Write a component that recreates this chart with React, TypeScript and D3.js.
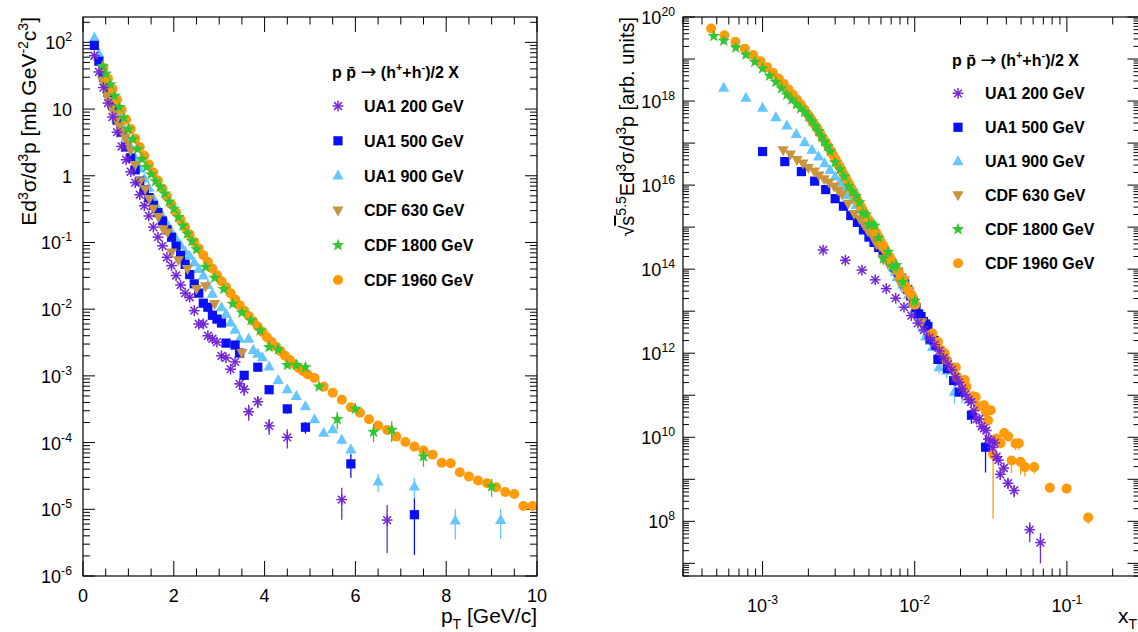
import React from 'react';
import * as d3 from 'd3';

// ---------------- data ----------------
// pT in GeV/c, invariant cross section E d3sigma/dp3 in mb GeV^-2 c^3
const ua1_200_pt = [0.25, 0.35, 0.45, 0.55, 0.65, 0.75, 0.85, 0.95, 1.05, 1.15, 1.25, 1.35, 1.45, 1.55, 1.65, 1.75, 1.85, 1.95, 2.05, 2.15, 2.25, 2.35, 2.45, 2.55, 2.65, 2.75, 2.85, 2.95, 3.05, 3.15, 3.25, 3.35, 3.45, 3.55, 3.65, 3.85, 4.1, 4.5, 5.7, 6.7];
const ua1_200_val = [63, 36, 21, 12.3, 7.6, 4.5, 2.75, 1.74, 1.15, 0.79, 0.52, 0.355, 0.25, 0.17, 0.12, 0.089, 0.06, 0.045, 0.032, 0.023, 0.0174, 0.0151, 0.0095, 0.006, 0.006, 0.004, 0.0036, 0.0032, 0.002, 0.00186, 0.00126, 0.00162, 7.6e-4, 6.3e-4, 2.9e-4, 4.1e-4, 1.78e-4, 1.2e-4, 1.4e-5, 6.9e-6];
const ua1_200_errPt = [3.55, 3.65, 3.85, 4.1, 4.5, 5.7, 6.7];
const ua1_200_errRel = [0.2, 0.27, 0.2, 0.27, 0.32, 0.5, 0.68];

const ua1_500_pt = [0.25, 0.35, 0.45, 0.55, 0.65, 0.75, 0.85, 0.95, 1.05, 1.15, 1.25, 1.35, 1.45, 1.55, 1.65, 1.75, 1.85, 1.95, 2.05, 2.15, 2.25, 2.35, 2.45, 2.55, 2.65, 2.75, 2.85, 2.95, 3.05, 3.15, 3.35, 3.45, 3.55, 3.85, 4.1, 4.5, 4.9, 5.9, 7.3];
const ua1_500_val = [90, 52, 30, 17.8, 11.2, 6.8, 4.5, 2.7, 1.86, 1.23, 0.83, 0.62, 0.47, 0.36, 0.28, 0.21, 0.155, 0.12, 0.088, 0.064, 0.047, 0.033, 0.024, 0.0174, 0.0123, 0.0107, 0.0081, 0.0071, 0.0062, 0.0031, 0.0029, 0.0022, 0.00102, 0.00135, 6.2e-4, 3.2e-4, 1.7e-4, 4.8e-5, 8.3e-6];
const ua1_500_errPt = [4.1, 4.5, 4.9, 5.9, 7.3];
const ua1_500_errRel = [0.1, 0.15, 0.2, 0.38, 0.75];

const ua1_900_pt = [0.25, 0.35, 0.45, 0.55, 0.65, 0.75, 0.85, 0.95, 1.05, 1.15, 1.25, 1.35, 1.45, 1.55, 1.65, 1.75, 1.85, 1.95, 2.05, 2.15, 2.25, 2.35, 2.45, 2.55, 2.65, 2.75, 2.85, 3.05, 3.15, 3.25, 3.35, 3.45, 3.65, 3.75, 3.85, 3.95, 4.1, 4.3, 4.5, 4.7, 4.9, 5.1, 5.3, 5.5, 5.7, 5.9, 6.5, 7.3, 8.2, 9.2];
const ua1_900_val = [117, 68, 39, 23.4, 14.8, 9.3, 5.9, 3.9, 2.7, 1.86, 1.29, 0.91, 0.66, 0.46, 0.33, 0.25, 0.19, 0.145, 0.115, 0.092, 0.074, 0.063, 0.05, 0.04, 0.032, 0.023, 0.017, 0.0107, 0.0085, 0.0063, 0.0049, 0.0036, 0.0036, 0.00245, 0.00214, 0.0019, 0.00138, 8.7e-4, 6.3e-4, 5.0e-4, 3.5e-4, 2.24e-4, 1.41e-4, 1.58e-4, 1.1e-4, 7.9e-5, 2.6e-5, 2.2e-5, 6.8e-6, 6.9e-6];
const ua1_900_errPt = [5.3, 5.5, 5.7, 5.9, 6.5, 7.3, 8.2, 9.2];
const ua1_900_errRel = [0.1, 0.1, 0.15, 0.2, 0.3, 0.35, 0.48, 0.48];

const cdf_630_pt = [0.43, 0.48, 0.53, 0.58, 0.63, 0.69, 0.74, 0.8, 0.86, 0.93, 0.99, 1.05, 1.15, 1.26, 1.37, 1.46, 1.55, 1.66, 1.77, 1.86, 1.95, 2.1, 2.3, 2.5, 2.7, 2.9, 3.5];
const cdf_630_val = [27, 21.4, 15.8, 13.2, 10.2, 8.5, 6.8, 5.5, 4.6, 3.7, 3.0, 2.4, 1.45, 0.83, 0.63, 0.45, 0.32, 0.24, 0.158, 0.141, 0.071, 0.054, 0.04, 0.02, 0.022, 0.012, 0.0022];
const cdf_630_errPt: number[] = [];
const cdf_630_errRel: number[] = [];

const cdf_1800_pt = [0.43, 0.5, 0.6, 0.7, 0.8, 0.9, 1.0, 1.1, 1.2, 1.3, 1.4, 1.5, 1.6, 1.7, 1.8, 1.9, 2.0, 2.1, 2.2, 2.3, 2.4, 2.5, 2.7, 2.9, 3.1, 3.3, 3.5, 3.7, 3.9, 4.1, 4.3, 4.5, 4.7, 4.9, 5.2, 5.6, 6.0, 6.4, 6.8, 7.5, 9.0];
const cdf_1800_val = [43.7, 33.9, 23.4, 15.8, 10.7, 7.41, 5.01, 3.55, 2.51, 1.78, 1.35, 1.05, 0.83, 0.68, 0.54, 0.41, 0.32, 0.24, 0.178, 0.135, 0.105, 0.079, 0.043, 0.0295, 0.02, 0.012, 0.0089, 0.0068, 0.0048, 0.0027, 0.0025, 0.00145, 0.00145, 0.00135, 6.9e-4, 2.24e-4, 3.2e-4, 1.45e-4, 1.55e-4, 6.2e-5, 2.2e-5];
const cdf_1800_errPt = [5.6, 6.0, 6.4, 6.8, 7.5, 9.0];
const cdf_1800_errRel = [0.3, 0.15, 0.3, 0.35, 0.3, 0.3];

const cdf_1960_pt = [0.45, 0.55, 0.65, 0.75, 0.85, 0.95, 1.05, 1.15, 1.25, 1.35, 1.45, 1.55, 1.65, 1.75, 1.85, 1.95, 2.05, 2.15, 2.25, 2.35, 2.45, 2.55, 2.65, 2.75, 2.85, 2.95, 3.05, 3.15, 3.25, 3.35, 3.45, 3.55, 3.65, 3.75, 3.85, 3.95, 4.05, 4.15, 4.25, 4.35, 4.45, 4.55, 4.65, 4.75, 4.85, 4.95, 5.1, 5.3, 5.5, 5.7, 5.9, 6.1, 6.3, 6.5, 6.7, 6.9, 7.1, 7.3, 7.5, 7.7, 7.9, 8.1, 8.3, 8.5, 8.7, 8.9, 9.1, 9.3, 9.5, 9.7, 9.9];
const cdf_1960_val = [41.7, 28.8, 20.0, 13.8, 9.77, 6.92, 5.01, 3.63, 2.69, 2.0, 1.48, 1.12, 0.85, 0.646, 0.49, 0.372, 0.282, 0.219, 0.17, 0.132, 0.102, 0.081, 0.0646, 0.0513, 0.0407, 0.0324, 0.0263, 0.0214, 0.0174, 0.0141, 0.0115, 0.0095, 0.0079, 0.0066, 0.0055, 0.00457, 0.0038, 0.00324, 0.00275, 0.00234, 0.002, 0.00174, 0.00151, 0.00132, 0.00117, 0.00105, 9.3e-4, 6.9e-4, 5.6e-4, 4.4e-4, 3.4e-4, 2.8e-4, 2.24e-4, 1.8e-4, 1.55e-4, 1.23e-4, 1.02e-4, 8.7e-5, 7.6e-5, 6.6e-5, 5.0e-5, 4.9e-5, 3.6e-5, 3.1e-5, 2.7e-5, 2.45e-5, 2.14e-5, 1.82e-5, 1.7e-5, 1.12e-5, 1.12e-5];
const cdf_1960_errPt: number[] = [];
const cdf_1960_errRel: number[] = [];

// CDF 1960 GeV points beyond pT = 10 GeV/c, only on the x_T panel (x_T, sqrt(s)^5.5 E d3sigma/dp3)
const cdf_1960_hi_xt = [0.01306, 0.01422, 0.015, 0.01574, 0.01633, 0.0177, 0.01862, 0.01897, 0.0203, 0.02133, 0.02188, 0.02399, 0.02518, 0.02649, 0.02858, 0.02931, 0.03162, 0.03034, 0.03273, 0.03443, 0.03664, 0.03873, 0.04111, 0.04325, 0.04592, 0.04831, 0.04955, 0.05297, 0.06095, 0.07727, 0.09954, 0.138];
const cdf_1960_hi_val = [2.95e12, 1.86e12, 1.17e12, 9.8e11, 6.8e11, 4.6e11, 4.6e11, 2.75e11, 2.19e11, 2.29e11, 1.58e11, 9.5e10, 9.1e10, 5.5e10, 5.75e10, 4.0e10, 4.4e10, 2.5e10, 3.9e9, 9.3e9, 7.2e9, 1.26e10, 1.05e10, 2.8e9, 7.1e9, 7.2e9, 2.6e9, 1.95e9, 1.95e9, 6.3e8, 6.0e8, 1.23e8];
const cdf_1960_hi_errDown = [0, 0, 0, 0, 0, 0, 0, 0, 0, 0, 0, 0, 0, 0, 0, 0, 0, 0, 0.97, 0.2, 0.15, 0, 0, 0.5, 0.3, 0.3, 0.5, 0.4, 0.3, 0.2, 0.2, 0.3];

const ptTicks = [0, 2, 4, 6, 8, 10];
const leftYLabelExps = [-6, -5, -4, -3, -2, -1, 0, 1, 2];
const rightYLabelExps = [8, 10, 12, 14, 16, 18, 20];
const rightXLabelExps = [-3, -2, -1];

type MarkerType = 'asterisk' | 'square' | 'triUp' | 'triDown' | 'star' | 'circle';
interface Series {
  name: string; sqrtS: number; color: string; marker: MarkerType;
  pt: number[]; val: number[]; errPt: number[]; errRel: number[];
}

const series: Series[] = [
  { name: 'UA1 200 GeV', sqrtS: 200, color: '#7326d6', marker: 'asterisk', pt: ua1_200_pt, val: ua1_200_val, errPt: ua1_200_errPt, errRel: ua1_200_errRel },
  { name: 'UA1 500 GeV', sqrtS: 500, color: '#0a10f5', marker: 'square', pt: ua1_500_pt, val: ua1_500_val, errPt: ua1_500_errPt, errRel: ua1_500_errRel },
  { name: 'UA1 900 GeV', sqrtS: 900, color: '#66c6ff', marker: 'triUp', pt: ua1_900_pt, val: ua1_900_val, errPt: ua1_900_errPt, errRel: ua1_900_errRel },
  { name: 'CDF 630 GeV', sqrtS: 630, color: '#c8953f', marker: 'triDown', pt: cdf_630_pt, val: cdf_630_val, errPt: cdf_630_errPt, errRel: cdf_630_errRel },
  { name: 'CDF 1800 GeV', sqrtS: 1800, color: '#33c633', marker: 'star', pt: cdf_1800_pt, val: cdf_1800_val, errPt: cdf_1800_errPt, errRel: cdf_1800_errRel },
  { name: 'CDF 1960 GeV', sqrtS: 1960, color: '#ff9a0a', marker: 'circle', pt: cdf_1960_pt, val: cdf_1960_val, errPt: cdf_1960_errPt, errRel: cdf_1960_errRel },
];
// drawing order (bottom -> top)
const drawOrder = [2, 1, 3, 5, 4, 0];

// ---------------- layout ----------------
const FONT = "'Liberation Sans', Arial, Helvetica, sans-serif";
const TOP = 17, BOT = 576;
const LX0 = 83, LX1 = 537;
const RX0 = 683, RX1 = 1139.5;

const xL = d3.scaleLinear().domain([0, 10]).range([LX0, LX1]);
const yL = d3.scaleLog().domain([1e-6, 240]).range([BOT, TOP]);
const xR = d3.scaleLog().domain([3e-4, 0.3]).range([RX0, RX1]);
const yR = d3.scaleLog().domain([5e6, 1e20]).range([BOT, TOP]);

function Marker({ type, x, y, color }: { type: MarkerType; x: number; y: number; color: string }) {
  switch (type) {
    case 'asterisk': {
      const r = 5.4, d = r * 0.72;
      return (
        <g stroke={color} strokeWidth={1.5}>
          <line x1={x - r} y1={y} x2={x + r} y2={y} />
          <line x1={x} y1={y - r} x2={x} y2={y + r} />
          <line x1={x - d} y1={y - d} x2={x + d} y2={y + d} />
          <line x1={x - d} y1={y + d} x2={x + d} y2={y - d} />
        </g>
      );
    }
    case 'square':
      return <rect x={x - 4.6} y={y - 4.6} width={9.2} height={9.2} fill={color} />;
    case 'triUp':
      return <path d={`M${x},${y - 6}L${x + 5.6},${y + 4}L${x - 5.6},${y + 4}Z`} fill={color} />;
    case 'triDown':
      return <path d={`M${x},${y + 6}L${x + 5.6},${y - 4}L${x - 5.6},${y - 4}Z`} fill={color} />;
    case 'star': {
      const R = 6.6, ri = 2.7;
      const pts: string[] = [];
      for (let i = 0; i < 10; i++) {
        const a = -Math.PI / 2 + (i * Math.PI) / 5;
        const rr = i % 2 === 0 ? R : ri;
        pts.push(`${x + rr * Math.cos(a)},${y + rr * Math.sin(a)}`);
      }
      return <polygon points={pts.join(' ')} fill={color} />;
    }
    case 'circle':
    default:
      return <circle cx={x} cy={y} r={5} fill={color} />;
  }
}

function Pow10({ x, y, exp, anchor, size = 18 }: { x: number; y: number; exp: number; anchor: 'start' | 'middle' | 'end'; size?: number }) {
  if (exp === 0) return <text x={x} y={y} textAnchor={anchor} fontSize={size} fontFamily={FONT}>1</text>;
  if (exp === 1) return <text x={x} y={y} textAnchor={anchor} fontSize={size} fontFamily={FONT}>10</text>;
  return (
    <text x={x} y={y} textAnchor={anchor} fontSize={size} fontFamily={FONT}>
      10<tspan dy={-8} fontSize={size * 0.68}>{exp < 0 ? `-${-exp}` : exp}</tspan>
    </text>
  );
}

function logTicks(domain: [number, number]) {
  const [a, b] = domain;
  const major: number[] = [], minor: number[] = [];
  for (let e = Math.floor(Math.log10(a)); e <= Math.ceil(Math.log10(b)); e++) {
    for (let k = 1; k <= 9; k++) {
      const v = k * Math.pow(10, e);
      if (v < a * 0.9999 || v > b * 1.0001) continue;
      (k === 1 ? major : minor).push(v);
    }
  }
  return { major, minor };
}

function Frame({ x0, x1 }: { x0: number; x1: number }) {
  return <rect x={x0} y={TOP} width={x1 - x0} height={BOT - TOP} fill="none" stroke="#000" strokeWidth={1.2} />;
}

function LeftPanel() {
  const xMajor = d3.range(0, 10.001, 2);
  const xMinor = d3.range(0, 10.001, 0.5).filter((v) => Math.abs(v / 2 - Math.round(v / 2)) > 1e-6);
  const yt = logTicks(yL.domain() as [number, number]);
  return (
    <g>
      <defs>
        <clipPath id="clipL"><rect x={LX0} y={TOP} width={LX1 - LX0} height={BOT - TOP} /></clipPath>
      </defs>
      <g stroke="#000" strokeWidth={1}>
        {xMajor.map((v) => (
          <g key={'xm' + v}>
            <line x1={xL(v)} x2={xL(v)} y1={BOT} y2={BOT - 15} />
            <line x1={xL(v)} x2={xL(v)} y1={TOP} y2={TOP + 15} />
          </g>
        ))}
        {xMinor.map((v) => (
          <g key={'xn' + v}>
            <line x1={xL(v)} x2={xL(v)} y1={BOT} y2={BOT - 7.5} />
            <line x1={xL(v)} x2={xL(v)} y1={TOP} y2={TOP + 7.5} />
          </g>
        ))}
        {yt.major.map((v) => (
          <g key={'ym' + v}>
            <line x1={LX0} x2={LX0 + 12} y1={yL(v)} y2={yL(v)} />
            <line x1={LX1} x2={LX1 - 12} y1={yL(v)} y2={yL(v)} />
          </g>
        ))}
        {yt.minor.map((v) => (
          <g key={'yn' + v}>
            <line x1={LX0} x2={LX0 + 7} y1={yL(v)} y2={yL(v)} />
            <line x1={LX1} x2={LX1 - 7} y1={yL(v)} y2={yL(v)} />
          </g>
        ))}
      </g>
      {ptTicks.map((v) => (
        <text key={'xl' + v} x={xL(v)} y={602} textAnchor="middle" fontSize={18} fontFamily={FONT}>{v}</text>
      ))}
      {leftYLabelExps.map((e) => (
        <Pow10 key={'yl' + e} x={72} y={yL(Math.pow(10, e)) + 7} exp={e} anchor="end" />
      ))}
      <g clipPath="url(#clipL)">
        {drawOrder.map((si) => {
          const s = series[si];
          return (
            <g key={s.name}>
              {s.errPt.map((p, i) => {
                const idx = s.pt.indexOf(p);
                if (idx < 0) return null;
                const v = s.val[idx], e = v * s.errRel[i];
                return <line key={'e' + i} x1={xL(p)} x2={xL(p)} y1={yL(v + e)} y2={yL(Math.max(v - e, 1e-9))} stroke={s.color} strokeWidth={1.3} />;
              })}
              {s.pt.map((p, i) => (
                <Marker key={i} type={s.marker} x={xL(p)} y={yL(s.val[i])} color={s.color} />
              ))}
            </g>
          );
        })}
      </g>
      <Frame x0={LX0} x1={LX1} />
      <text transform={`translate(36,${TOP}) rotate(-90)`} textAnchor="end" fontSize={21} fontFamily={FONT}>
        Ed<tspan dy={-8} fontSize={14}>3</tspan><tspan dy={8}>σ/d</tspan><tspan dy={-8} fontSize={14}>3</tspan><tspan dy={8}>p [mb GeV</tspan><tspan dy={-8} fontSize={14}>-2</tspan><tspan dy={8}>c</tspan><tspan dy={-8} fontSize={14}>3</tspan><tspan dy={8}>]</tspan>
      </text>
      <text x={LX1} y={623} textAnchor="end" fontSize={21} fontFamily={FONT}>
        p<tspan dy={6} fontSize={14}>T</tspan><tspan dy={-6}> [GeV/c]</tspan>
      </text>
      <Legend titleX={332} titleY={78} markerX={338} textX={364} rowY0={106} rowDy={34.8} />
    </g>
  );
}

function RightPanel() {
  const xt = logTicks(xR.domain() as [number, number]);
  const yt = logTicks(yR.domain() as [number, number]);
  return (
    <g>
      <defs>
        <clipPath id="clipR"><rect x={RX0} y={TOP} width={RX1 - RX0} height={BOT - TOP} /></clipPath>
      </defs>
      <g stroke="#000" strokeWidth={1}>
        {xt.major.map((v) => (
          <g key={'xm' + v}>
            <line x1={xR(v)} x2={xR(v)} y1={BOT} y2={BOT - 15} />
            <line x1={xR(v)} x2={xR(v)} y1={TOP} y2={TOP + 15} />
          </g>
        ))}
        {xt.minor.map((v) => (
          <g key={'xn' + v}>
            <line x1={xR(v)} x2={xR(v)} y1={BOT} y2={BOT - 7.5} />
            <line x1={xR(v)} x2={xR(v)} y1={TOP} y2={TOP + 7.5} />
          </g>
        ))}
        {yt.major.map((v) => (
          <g key={'ym' + v}>
            <line x1={RX0} x2={RX0 + 12} y1={yR(v)} y2={yR(v)} />
            <line x1={RX1} x2={RX1 - 12} y1={yR(v)} y2={yR(v)} />
          </g>
        ))}
        {yt.minor.map((v) => (
          <g key={'yn' + v}>
            <line x1={RX0} x2={RX0 + 6} y1={yR(v)} y2={yR(v)} />
            <line x1={RX1} x2={RX1 - 6} y1={yR(v)} y2={yR(v)} />
          </g>
        ))}
      </g>
      {rightXLabelExps.map((e) => (
        <Pow10 key={'xl' + e} x={xR(Math.pow(10, e))} y={612} exp={e} anchor="middle" />
      ))}
      {rightYLabelExps.map((e) => (
        <Pow10 key={'yl' + e} x={675} y={yR(Math.pow(10, e)) + 7} exp={e} anchor="end" />
      ))}
      <g clipPath="url(#clipR)">
        {drawOrder.map((si) => {
          const s = series[si];
          const f = Math.pow(s.sqrtS, 5.5);
          const xtOf = (p: number) => (2 * p) / s.sqrtS;
          return (
            <g key={s.name}>
              {s.errPt.map((p, i) => {
                const idx = s.pt.indexOf(p);
                if (idx < 0) return null;
                const v = s.val[idx] * f, e = v * s.errRel[i];
                return <line key={'e' + i} x1={xR(xtOf(p))} x2={xR(xtOf(p))} y1={yR(v + e)} y2={yR(Math.max(v - e, 1))} stroke={s.color} strokeWidth={1.3} />;
              })}
              {si === 5 && cdf_1960_hi_xt.map((x, i) => {
                const v = cdf_1960_hi_val[i], e = v * cdf_1960_hi_errDown[i];
                return e > 0 ? <line key={'h' + i} x1={xR(x)} x2={xR(x)} y1={yR(v)} y2={yR(Math.max(v - e, 1))} stroke={s.color} strokeWidth={1.3} /> : null;
              })}
              {s.pt.map((p, i) => (
                <Marker key={i} type={s.marker} x={xR(xtOf(p))} y={yR(s.val[i] * f)} color={s.color} />
              ))}
              {si === 5 && cdf_1960_hi_xt.map((x, i) => (
                <Marker key={'hm' + i} type={s.marker} x={xR(x)} y={yR(cdf_1960_hi_val[i])} color={s.color} />
              ))}
            </g>
          );
        })}
      </g>
      <Frame x0={RX0} x1={RX1} />
      <text transform={`translate(634,${TOP}) rotate(-90)`} textAnchor="end" fontSize={20} fontFamily={FONT}>
        √<tspan textDecoration="overline">s</tspan><tspan dy={-8} fontSize={14}>5.5</tspan><tspan dy={8}>Ed</tspan><tspan dy={-8} fontSize={14}>3</tspan><tspan dy={8}>σ/d</tspan><tspan dy={-8} fontSize={14}>3</tspan><tspan dy={8}>p [arb. units]</tspan>
      </text>
      <text x={1137} y={623} textAnchor="end" fontSize={21} fontFamily={FONT}>
        x<tspan dy={6} fontSize={14}>T</tspan>
      </text>
      <Legend titleX={952} titleY={66} markerX={958} textX={985} rowY0={93.3} rowDy={34} />
    </g>
  );
}

function Legend({ titleX, titleY, markerX, textX, rowY0, rowDy }: { titleX: number; titleY: number; markerX: number; textX: number; rowY0: number; rowDy: number }) {
  return (
    <g fontFamily={FONT} fontWeight="bold" fontSize={16}>
      <text x={titleX} y={titleY}>
        p p̄ <tspan fontFamily="'DejaVu Sans', 'Noto Sans', sans-serif" fontWeight="normal" fontSize={19}>→</tspan> (h<tspan dy={-7} fontSize={11}>+</tspan><tspan dy={7}>+h</tspan><tspan dy={-7} fontSize={11}>-</tspan><tspan dy={7}>)/2 X</tspan>
      </text>
      {series.map((s, i) => {
        const y = rowY0 + i * rowDy;
        return (
          <g key={s.name}>
            <Marker type={s.marker} x={markerX} y={y} color={s.color} />
            <text x={textX} y={y + 6}>{s.name}</text>
          </g>
        );
      })}
    </g>
  );
}

export default function App() {
  return (
    <svg width={1138} height={632} style={{ position: 'absolute', left: 0, top: 0, background: '#fff' }}>
      <rect x={0} y={0} width={1138} height={632} fill="#fff" />
      <LeftPanel />
      <RightPanel />
    </svg>
  );
}
